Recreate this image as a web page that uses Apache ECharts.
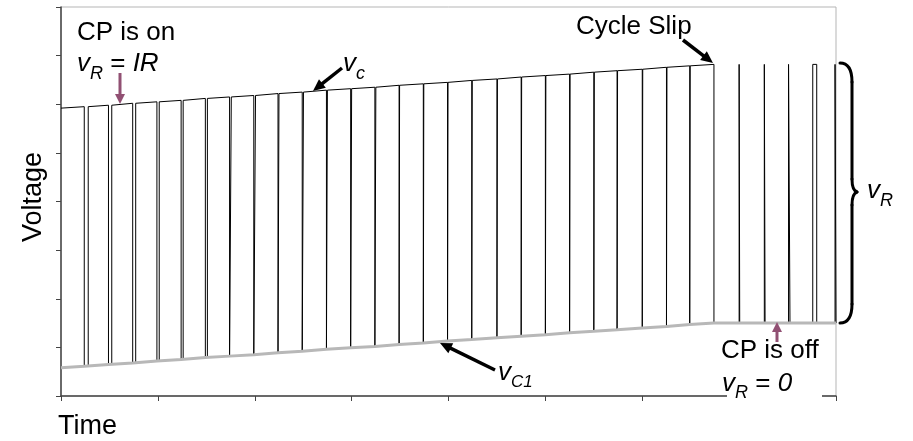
<!DOCTYPE html>
<html>
<head>
<meta charset="utf-8">
<script src="https://cdn.jsdelivr.net/npm/echarts@6/dist/echarts.min.js"></script>
<style>
  html, body { margin: 0; padding: 0; background: #fff; }
  #chart { width: 913px; height: 441px; }
</style>
</head>
<body>
<div id="chart"></div>
<script>
// Charge-pump "on" phase: each cycle the loop-filter node dips from v_c to v_C1.
const pulseTime  = [0.24, 0.49, 0.74, 0.99, 1.24, 1.49, 1.74, 1.99, 2.24, 2.49, 2.74, 2.99, 3.24,
                    3.49, 3.74, 3.99, 4.24, 4.50, 4.75, 5.00, 5.25, 5.50, 5.74, 6.00, 6.25, 6.49];
const pulseWidth = [0.041, 0.034, 0.031, 0.024, 0.021, 0.021, 0.018, 0.018, 0.010, 0.013, 0.010, 0.010, 0.010,
                    0.005, 0.005, 0.005, 0.005, 0.005, 0.005, 0.005, 0.005, 0.005, 0.005, 0.005, 0.005, 0.005];
const vcLevel    = [5.95, 5.98, 6.02, 6.05, 6.08, 6.12, 6.15, 6.18, 6.22, 6.25, 6.29, 6.32, 6.35,
                    6.39, 6.42, 6.45, 6.49, 6.52, 6.56, 6.59, 6.62, 6.66, 6.69, 6.72, 6.76, 6.79];
const vc1Level   = [0.61, 0.65, 0.68, 0.72, 0.75, 0.79, 0.82, 0.85, 0.89, 0.92, 0.96, 0.99, 1.02,
                    1.06, 1.09, 1.13, 1.16, 1.20, 1.23, 1.26, 1.30, 1.33, 1.36, 1.40, 1.43, 1.47];
const startLevel = [5.92, 0.58];      // v_c, v_C1 at t = 0
const slipTime   = 6.74;              // cycle slip
const slipLevel  = [6.82, 1.50];      // v_c, v_C1 at the slip, held afterwards
// Charge pump "off" phase: narrow spikes up from v_C1
const spikeTime  = [7.00, 7.26, 7.51, 7.76, 7.99];
const spikeWidth = [0.006, 0.008, 0.015, 0.041, 0.010];
const timeRange  = [0, 8];
const voltRange  = [0, 8];

// waveform of the node voltage (black)
const wave = [[timeRange[0], startLevel[0]]];
pulseTime.forEach((t, i) => {
  const w = pulseWidth[i];
  wave.push([t, vcLevel[i]], [t, vc1Level[i]], [t + w, vc1Level[i]], [t + w, vcLevel[i]]);
});
wave.push([slipTime, slipLevel[0]], [slipTime, slipLevel[1]]);
spikeTime.forEach((t, i) => {
  const w = spikeWidth[i];
  wave.push([t, slipLevel[1]], [t, slipLevel[0]], [t + w, slipLevel[0]], [t + w, slipLevel[1]]);
});
wave.push([timeRange[1], slipLevel[1]]);

// v_C1 (grey)
const vc1Line = [[timeRange[0], startLevel[1]]]
  .concat(pulseTime.map((t, i) => [t, vc1Level[i]]))
  .concat([[slipTime, slipLevel[1]], [timeRange[1], slipLevel[1]]]);

const FAMILY = '"Liberation Sans", Arial, Helvetica, sans-serif';
const fontOf = (size, italic) => (italic ? 'italic ' : '') + size + 'px ' + FAMILY;
const measureCtx = document.createElement('canvas').getContext('2d');
function textWidth(str, size, italic) {
  measureCtx.font = fontOf(size, italic);
  return measureCtx.measureText(str).width;
}

// text with optional subscripts; y given as baseline
function label(parts, x, baseline) {
  const out = [];
  let cx = x;
  parts.forEach(p => {
    const size = p.size || 26;
    const base = baseline + (p.dy || 0);
    out.push({
      type: 'text', x: cx, y: base - 0.3465 * size, z: 100,
      style: { text: p.t, font: fontOf(size, p.italic), fill: '#000', align: 'left', verticalAlign: 'middle' }
    });
    cx += textWidth(p.t, size, p.italic);
  });
  return out;
}

function arrow(x1, y1, x2, y2, color, lw, headLen, headW) {
  const dx = x2 - x1, dy = y2 - y1, len = Math.hypot(dx, dy);
  const ux = dx / len, uy = dy / len;
  const bx = x2 - ux * headLen, by = y2 - uy * headLen;
  const px = -uy * headW / 2, py = ux * headW / 2;
  return [
    { type: 'line', z: 100, shape: { x1: x1, y1: y1, x2: bx + ux, y2: by + uy },
      style: { stroke: color, lineWidth: lw } },
    { type: 'polygon', z: 100, shape: { points: [[x2, y2], [bx + px, by + py], [bx - px, by - py]] },
      style: { fill: color } }
  ];
}

// curly brace marking the v_R span
function brace() {
  const st = { stroke: '#000', lineWidth: 3, fill: null, lineCap: 'round' };
  const curve = (x1, y1, a, b, c, d, x2, y2) => ({ type: 'bezierCurve', z: 100,
    shape: { x1: x1, y1: y1, cpx1: a, cpy1: b, cpx2: c, cpy2: d, x2: x2, y2: y2 }, style: st });
  const seg = (x1, y1, x2, y2) => ({ type: 'line', z: 100, shape: { x1: x1, y1: y1, x2: x2, y2: y2 }, style: st });
  return [
    curve(840, 63, 848, 63, 852, 70, 852, 82),
    seg(852, 82, 852, 179),
    curve(852, 179, 852, 187, 854, 191, 857, 192),
    curve(857, 192, 854, 193, 852, 198, 852, 205),
    seg(852, 205, 852, 304),
    curve(852, 304, 852, 316, 848, 323, 840, 323)
  ];
}

const PURPLE = '#915073';
const graphics = []
  .concat(label([{ t: 'CP is on' }], 77, 42))
  .concat(label([{ t: 'v', italic: true }, { t: 'R', italic: true, size: 18, dy: 7 }, { t: ' = ' }, { t: 'IR', italic: true }], 77, 73))
  .concat(arrow(120, 73, 120, 104, PURPLE, 3, 10, 10))
  .concat(label([{ t: 'Cycle Slip' }], 576, 36))
  .concat(arrow(683, 40, 713, 63, '#000', 3.5, 12, 11))
  .concat(label([{ t: 'v', italic: true }, { t: 'c', italic: true, size: 18, dy: 7 }], 343, 73))
  .concat(arrow(342, 68, 313, 91, '#000', 3.5, 12, 11))
  .concat(label([{ t: 'v', italic: true }, { t: 'C1', italic: true, size: 17, dy: 6 }], 498, 382))
  .concat(arrow(495, 370, 440, 343, '#000', 3.5, 12, 11))
  .concat(arrow(777, 342, 777, 322, PURPLE, 3, 10, 10))
  .concat(label([{ t: 'CP is off' }], 721, 360))
  .concat([{ type: 'rect', z: 99, shape: { x: 727, y: 383, width: 95, height: 22 }, style: { fill: '#fff' } }])
  .concat(label([{ t: 'v', italic: true }, { t: 'R', italic: true, size: 18, dy: 6 }, { t: ' = ' }, { t: '0', italic: true }], 722, 393))
  .concat(brace())
  .concat(label([{ t: 'v', italic: true }, { t: 'R', italic: true, size: 18, dy: 7 }], 867, 200))
  .concat([{
    type: 'text', x: 34, y: 197, rotation: Math.PI / 2, z: 100,
    style: { text: 'Voltage', font: fontOf(27), fill: '#000', align: 'center', verticalAlign: 'middle' }
  }])
  .concat(label([{ t: 'Time', size: 27 }], 58, 436));

const chart = echarts.init(document.getElementById('chart'), null, { renderer: 'canvas' });
const axisCommon = {
  type: 'value',
  interval: 1,
  axisLine: { show: true, onZero: false, lineStyle: { color: '#444', width: 1.5 } },
  axisTick: { show: true, inside: false, length: 5, lineStyle: { color: '#444', width: 1 } },
  axisLabel: { show: false },
  splitLine: { show: false }
};
chart.setOption({
  animation: false,
  backgroundColor: '#fff',
  grid: { left: 61, right: 77, top: 7, bottom: 45, show: true, borderColor: '#b5b5b5', borderWidth: 1,
          containLabel: false },
  xAxis: Object.assign({}, axisCommon, { min: timeRange[0], max: timeRange[1] }),
  yAxis: Object.assign({}, axisCommon, { min: voltRange[0], max: voltRange[1] }),
  series: [
    { name: 'node', type: 'line', data: wave, showSymbol: false, symbol: 'none',
      lineStyle: { color: '#000', width: 1 }, z: 2 },
    { name: 'vC1', type: 'line', data: vc1Line, showSymbol: false, symbol: 'none',
      lineStyle: { color: '#b8b8b8', width: 3 }, z: 3 }
  ],
  graphic: graphics
});
</script>
</body>
</html>
